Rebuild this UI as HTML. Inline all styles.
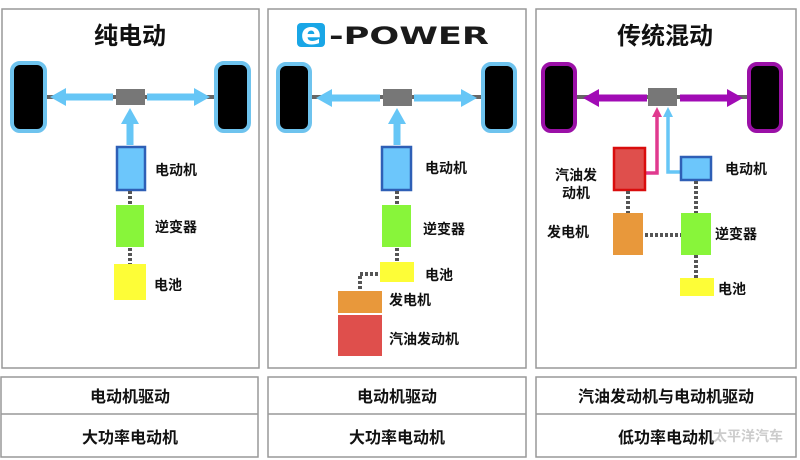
<!DOCTYPE html>
<html><head><meta charset="utf-8"><style>
html,body{margin:0;padding:0;background:#fff;width:800px;height:460px;overflow:hidden}
text{font-family:"Liberation Sans","Noto Sans CJK SC",sans-serif;font-weight:bold;fill:#111}
</style></head><body>
<svg width="800" height="460" viewBox="0 0 800 460" xmlns="http://www.w3.org/2000/svg">
<g fill="none" stroke="#999" stroke-width="1.5">
<rect x="2" y="9" width="257" height="359"/>
<rect x="268" y="9" width="258" height="359"/>
<rect x="536" y="9" width="260" height="359"/>
<rect x="1" y="377" width="257" height="80"/>
<rect x="268" y="377" width="258" height="80"/>
<rect x="536" y="377" width="260" height="80"/>
<line x1="1" y1="414" x2="258" y2="414"/>
<line x1="268" y1="414" x2="526" y2="414"/>
<line x1="536" y1="414" x2="796" y2="414"/>
</g>
<text x="130" y="44" font-size="24" text-anchor="middle">纯电动</text>
<text x="665" y="44" font-size="24" text-anchor="middle">传统混动</text>
<rect x="297" y="23" width="28" height="24" rx="4" fill="#19a6e6"/>
<text x="311" y="44" font-size="30" text-anchor="middle" style="fill:#fff;font-family:'DejaVu Sans',sans-serif">e</text>
<text x="329" y="44" font-size="24" textLength="160" lengthAdjust="spacingAndGlyphs" style="font-family:'DejaVu Sans',sans-serif;fill:#1a1a1a">-POWER</text>

<g>
<line x1="40" y1="97" x2="220" y2="97" stroke="#666" stroke-width="4"/>
<rect x="12" y="63" width="33" height="68" rx="8" fill="#000" stroke="#6ec3ee" stroke-width="4"/>
<rect x="216" y="63" width="33" height="68" rx="8" fill="#000" stroke="#6ec3ee" stroke-width="4"/>
<path d="M113,97 H62" stroke="#66c6f6" stroke-width="7"/><path d="M50,97 L66,88 L66,106Z" fill="#66c6f6"/>
<path d="M147,97 H198" stroke="#66c6f6" stroke-width="7"/><path d="M210,97 L194,88 L194,106Z" fill="#66c6f6"/>
<rect x="116" y="89" width="29" height="16" fill="#777"/>
<path d="M130,145 V122" stroke="#66c6f6" stroke-width="7"/><path d="M130,108 L121,124 L139,124Z" fill="#66c6f6"/>
<rect x="117" y="147" width="28" height="43" fill="#6cc6fb" stroke="#2e5fb6" stroke-width="2.5"/>
<line x1="130" y1="191" x2="130" y2="205" stroke="#555" stroke-width="4" stroke-dasharray="3,2"/>
<rect x="116" y="205" width="28" height="42" fill="#88f53a"/>
<line x1="130" y1="248" x2="130" y2="264" stroke="#555" stroke-width="4" stroke-dasharray="3,2"/>
<rect x="114" y="264" width="32" height="36" fill="#fdfd37"/>
<text x="155" y="175" font-size="14">电动机</text>
<text x="155" y="232" font-size="14">逆变器</text>
<text x="154" y="290" font-size="14">电池</text>
</g>

<g>
<line x1="305" y1="97" x2="485" y2="97" stroke="#666" stroke-width="4"/>
<rect x="278" y="64" width="32" height="67" rx="8" fill="#000" stroke="#6ec3ee" stroke-width="4"/>
<rect x="483" y="64" width="32" height="67" rx="8" fill="#000" stroke="#6ec3ee" stroke-width="4"/>
<path d="M380,98 H328" stroke="#66c6f6" stroke-width="7"/><path d="M316,98 L332,89 L332,107Z" fill="#66c6f6"/>
<path d="M414,98 H465" stroke="#66c6f6" stroke-width="7"/><path d="M477,98 L461,89 L461,107Z" fill="#66c6f6"/>
<rect x="383" y="89" width="29" height="17" fill="#777"/>
<path d="M397,145 V122" stroke="#66c6f6" stroke-width="7"/><path d="M397,108 L388,124 L406,124Z" fill="#66c6f6"/>
<rect x="382" y="147" width="29" height="43" fill="#6cc6fb" stroke="#2e5fb6" stroke-width="2.5"/>
<line x1="397" y1="191" x2="397" y2="205" stroke="#555" stroke-width="4" stroke-dasharray="3,2"/>
<rect x="382" y="205" width="29" height="42" fill="#88f53a"/>
<line x1="397" y1="248" x2="397" y2="262" stroke="#555" stroke-width="4" stroke-dasharray="3,2"/>
<rect x="380" y="262" width="34" height="20" fill="#fdfd37"/>
<path d="M378,274 H360 V292" fill="none" stroke="#555" stroke-width="4" stroke-dasharray="3,2"/>
<rect x="338" y="291" width="44" height="22" fill="#e8983b"/>
<rect x="338" y="315" width="44" height="41" fill="#df4f4c"/>
<text x="425" y="173" font-size="14">电动机</text>
<text x="423" y="234" font-size="14">逆变器</text>
<text x="425" y="280" font-size="14">电池</text>
<text x="389" y="305" font-size="14">发电机</text>
<text x="389" y="344" font-size="14">汽油发动机</text>
</g>

<g>
<line x1="570" y1="97" x2="755" y2="97" stroke="#666" stroke-width="4"/>
<rect x="543" y="64" width="32" height="67" rx="8" fill="#000" stroke="#9b10a7" stroke-width="4"/>
<rect x="749" y="64" width="32" height="67" rx="8" fill="#000" stroke="#9b10a7" stroke-width="4"/>
<path d="M647,98 H595" stroke="#a10bb5" stroke-width="7"/><path d="M583,98 L599,89 L599,107Z" fill="#a10bb5"/>
<path d="M680,98 H730" stroke="#a10bb5" stroke-width="7"/><path d="M743,98 L727,89 L727,107Z" fill="#a10bb5"/>
<rect x="648" y="88" width="29" height="18" fill="#777"/>
<path d="M645,173 H657 V116" fill="none" stroke="#e03a8f" stroke-width="3.5"/><path d="M657,107 L652,117 L662,117Z" fill="#e03a8f"/>
<path d="M681,172 H668 V116" fill="none" stroke="#66c6f6" stroke-width="3.5"/><path d="M668,107 L663,117 L673,117Z" fill="#66c6f6"/>
<rect x="614" y="148" width="31" height="42" fill="#df4f4c" stroke="#d90d0d" stroke-width="2.5"/>
<rect x="681" y="157" width="30" height="23" fill="#6cc6fb" stroke="#2e5fb6" stroke-width="2.5"/>
<line x1="628" y1="191" x2="628" y2="213" stroke="#555" stroke-width="4" stroke-dasharray="3,2"/>
<line x1="696" y1="181" x2="696" y2="213" stroke="#555" stroke-width="4" stroke-dasharray="3,2"/>
<rect x="613" y="213" width="30" height="42" fill="#e8983b"/>
<line x1="645" y1="235" x2="681" y2="235" stroke="#555" stroke-width="4" stroke-dasharray="3,2"/>
<rect x="681" y="213" width="30" height="42" fill="#88f53a"/>
<line x1="696" y1="255" x2="696" y2="278" stroke="#555" stroke-width="4" stroke-dasharray="3,2"/>
<rect x="680" y="278" width="34" height="18" fill="#fdfd37"/>
<text x="555" y="180" font-size="14">汽油发</text>
<text x="562" y="198" font-size="14">动机</text>
<text x="725" y="174" font-size="14">电动机</text>
<text x="547" y="237" font-size="14">发电机</text>
<text x="715" y="239" font-size="14">逆变器</text>
<text x="718" y="294" font-size="14">电池</text>
</g>

<g font-size="16" text-anchor="middle">
<text x="130" y="402">电动机驱动</text>
<text x="130" y="443">大功率电动机</text>
<text x="397" y="402">电动机驱动</text>
<text x="397" y="443">大功率电动机</text>
<text x="666" y="402">汽油发动机与电动机驱动</text>
<text x="666" y="443">低功率电动机</text>
</g>
<text x="713" y="441" font-size="14" style="fill:#ccc">太平洋汽车</text>
</svg>
</body></html>
